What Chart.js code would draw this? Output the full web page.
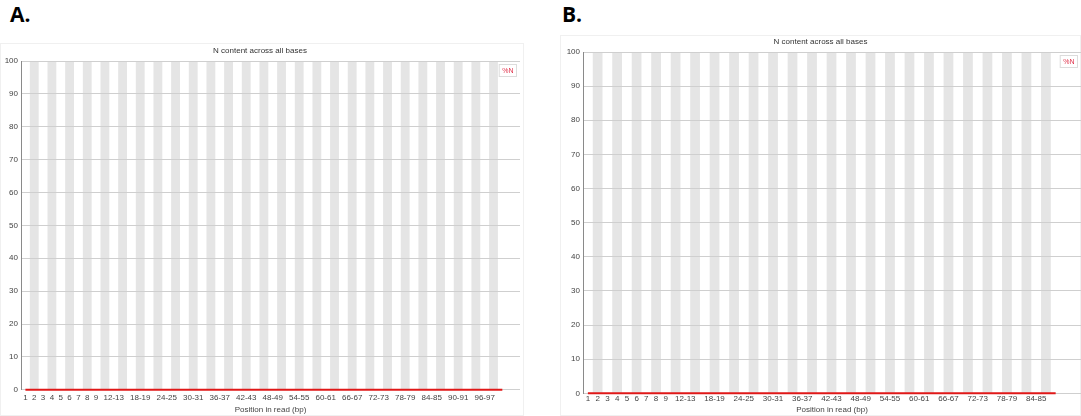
<!DOCTYPE html>
<html lang="en">
<head>
  <meta charset="UTF-8" />
  <title>N content across all bases</title>
  <style>
    body {
      margin: 0;
      background: #fff;
      width: 1081px;
      height: 416px;
      position: relative;
      overflow: hidden;
      font-family: 'Open Sans', sans-serif;
    }
    .tag {
      position: absolute;
      top: 4px;
      font-size: 21px;
      line-height: 21px;
      font-weight: bold;
      color: #000;
    }
    .frame {
      position: absolute;
      box-sizing: border-box;
      border: 1px solid #f0f0f0;
    }
    canvas {
      position: absolute;
    }
  </style>
</head>
<body>
  <div class="tag" style="left:10px">A.</div>
  <div class="tag" style="left:562px">B.</div>
  <div class="frame" style="left:0;top:43px;width:524px;height:373px"></div>
  <div class="frame" style="left:560px;top:35px;width:521px;height:381px"></div>
  <canvas id="chartA" width="524" height="373" style="left:0;top:43px"></canvas>
  <canvas id="chartB" width="521" height="381" style="left:560px;top:35px"></canvas>

  <script src="https://cdn.jsdelivr.net/npm/chart.js"></script>
  <script>
    // positions in read (bp), grouped as in the report
    const positionsA = ['1', '2', '3', '4', '5', '6', '7', '8', '9',
      '10-11', '12-13', '14-15', '16-17', '18-19', '20-21', '22-23', '24-25', '26-27', '28-29',
      '30-31', '32-33', '34-35', '36-37', '38-39', '40-41', '42-43', '44-45', '46-47', '48-49',
      '50-51', '52-53', '54-55', '56-57', '58-59', '60-61', '62-63', '64-65', '66-67', '68-69',
      '70-71', '72-73', '74-75', '76-77', '78-79', '80-81', '82-83', '84-85', '86-87', '88-89',
      '90-91', '92-93', '94-95', '96-97', '98-99', '100-101'];
    const positionsB = ['1', '2', '3', '4', '5', '6', '7', '8', '9',
      '10-11', '12-13', '14-15', '16-17', '18-19', '20-21', '22-23', '24-25', '26-27', '28-29',
      '30-31', '32-33', '34-35', '36-37', '38-39', '40-41', '42-43', '44-45', '46-47', '48-49',
      '50-51', '52-53', '54-55', '56-57', '58-59', '60-61', '62-63', '64-65', '66-67', '68-69',
      '70-71', '72-73', '74-75', '76-77', '78-79', '80-81', '82-83', '84-85', '86-87', '88-89'];

    // %N at each position (flat at zero in both runs)
    const nContentA = [0, 0, 0, 0, 0, 0, 0, 0, 0, 0, 0, 0, 0, 0, 0, 0, 0, 0, 0, 0, 0, 0, 0, 0, 0, 0, 0, 0,
      0, 0, 0, 0, 0, 0, 0, 0, 0, 0, 0, 0, 0, 0, 0, 0, 0, 0, 0, 0, 0, 0, 0, 0, 0, 0, 0];
    const nContentB = [0, 0, 0, 0, 0, 0, 0, 0, 0, 0, 0, 0, 0, 0, 0, 0, 0, 0, 0, 0, 0, 0, 0, 0, 0,
      0, 0, 0, 0, 0, 0, 0, 0, 0, 0, 0, 0, 0, 0, 0, 0, 0, 0, 0, 0, 0, 0, 0, 0];

    const yTicks = [0, 10, 20, 30, 40, 50, 60, 70, 80, 90, 100];

    const FONT = "'Liberation Sans', sans-serif";
    const TEXT = '#444';

    // only some labels fit under the axis
    function showLabel(i) {
      return i < 9 || (i >= 10 && (i - 10) % 3 === 0);
    }

    // alternating grey bands behind every other position
    const stripes = {
      id: 'stripes',
      beforeDraw(chart) {
        const { ctx, chartArea, scales } = chart;
        const n = chart.data.datasets[0].data.length;
        ctx.save();
        ctx.fillStyle = '#e5e5e5';
        for (let i = 1; i < n; i += 2) {
          const x0 = scales.x.getPixelForValue(i - 0.5);
          const x1 = scales.x.getPixelForValue(i + 0.5);
          ctx.fillRect(x0, chartArea.top, x1 - x0, chartArea.bottom - chartArea.top);
        }
        ctx.restore();
      }
    };

    // small legend box in the top right corner
    const legendBox = {
      id: 'legendBox',
      afterDraw(chart) {
        const { ctx, chartArea } = chart;
        const ds = chart.data.datasets[0];
        ctx.save();
        ctx.font = '7px ' + FONT;
        const tw = ctx.measureText(ds.label).width;
        const w = tw + 7, h = 13;
        const x = chartArea.right - 3 - w, y = chartArea.top + 3;
        ctx.fillStyle = '#fff';
        ctx.fillRect(x, y, w, h);
        ctx.strokeStyle = '#dcdcdc';
        ctx.lineWidth = 1;
        ctx.strokeRect(x + 0.5, y + 0.5, w - 1, h - 1);
        ctx.fillStyle = '#e0304a';
        ctx.textBaseline = 'middle';
        ctx.fillText(ds.label, x + 3.5, y + h / 2 + 0.5);
        ctx.restore();
      }
    };

    function makeChart(id, labels, values, o) {
      const n = labels.length;
      return new Chart(document.getElementById(id), {
        type: 'line',
        data: {
          datasets: [{
            label: '%N',
            data: values.map((v, i) => ({ x: i, y: v })),
            borderColor: '#e01818',
            borderWidth: 2,
            pointRadius: 0,
            tension: 0,
            clip: false
          }]
        },
        options: {
          responsive: false,
          animation: false,
          layout: { padding: { left: 0, right: o.padRight, top: 0, bottom: o.padBottom } },
          plugins: {
            legend: { display: false },
            tooltip: { enabled: false },
            title: {
              display: true,
              text: 'N content across all bases',
              color: '#333',
              font: { size: 8, family: FONT, weight: 'normal' },
              padding: { top: o.titleTop, bottom: o.titleBottom }
            }
          },
          scales: {
            x: {
              type: 'linear',
              min: -0.5,
              max: n - 0.5 + o.xExtra,
              afterBuildTicks: s => { s.ticks = labels.map((_, i) => ({ value: i })); },
              ticks: {
                autoSkip: false,
                maxRotation: 0,
                minRotation: 0,
                padding: o.tickPad,
                color: TEXT,
                font: { size: 8, family: FONT },
                callback: v => (showLabel(v) ? labels[v] : '')
              },
              grid: { display: false, drawTicks: false },
              border: { display: false },
              title: {
                display: true,
                text: 'Position in read (bp)',
                color: TEXT,
                font: { size: 8, family: FONT },
                padding: { top: 0, bottom: 0 }
              }
            },
            y: {
              min: 0,
              max: 100,
              afterBuildTicks: s => { s.ticks = yTicks.map(v => ({ value: v })); },
              afterFit: s => { s.width = o.yWidth; },
              ticks: {
                padding: 3,
                color: TEXT,
                font: { size: 8, family: FONT }
              },
              grid: { color: '#cfcfcf', drawTicks: false },
              border: { display: true, color: '#8a8a8a', width: 1 }
            }
          }
        },
        plugins: [stripes, legendBox]
      });
    }

    makeChart('chartA', positionsA, nContentA,
      { yWidth: 21, padRight: 4, padBottom: 1, titleTop: 3, titleBottom: 5.4, tickPad: 3, xExtra: 1.5 });
    makeChart('chartB', positionsB, nContentB,
      { yWidth: 23, padRight: 0, padBottom: 1.5, titleTop: 2, titleBottom: 5.4, tickPad: 1, xExtra: 2.1 });
  </script>
</body>
</html>
